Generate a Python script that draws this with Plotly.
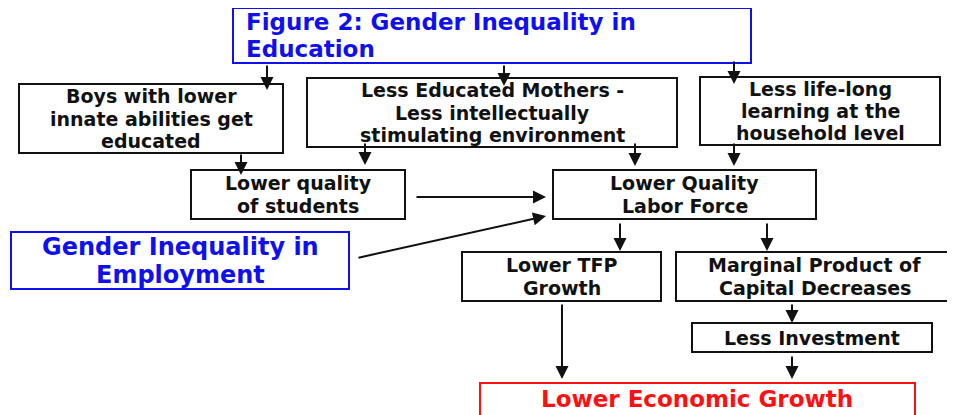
import plotly.graph_objects as go

# ---- content ----
title_lines = ["Figure 2: Gender Inequality in", "Education"]
employment_lines = ["Gender Inequality in", "Employment"]
outcome_lines = ["Lower Economic Growth"]
box_labels = [
    ["Boys with lower", "innate abilities get", "educated"],
    ["Less Educated Mothers -", "Less intellectually", "stimulating environment"],
    ["Less life-long", "learning at the", "household level"],
    ["Lower quality", "of students"],
    ["Lower Quality", "Labor Force"],
    ["Lower TFP", "Growth"],
    ["Marginal Product of", "Capital Decreases"],
    ["Less Investment"],
]

# ---- geometry (page pixels) ----
box_rects = [
    (19, 84, 283, 153),
    (307, 78, 677, 147),
    (700, 77, 940, 145),
    (191, 170, 405, 219),
    (553, 170, 816, 219),
    (462, 252, 661, 301),
    (676, 252, 953, 301),
    (692, 323, 932, 352),
]
title_rect = (233, 8, 751, 63)
employment_rect = (11, 232, 349, 289)
outcome_rect = (480, 383, 915, 425)

arrows = [  # (tail x, tail y, head x, head y)
    (267, 64, 267, 90),
    (504, 64, 504, 86),
    (734, 60, 734, 84),
    (241, 153, 241, 175),
    (365, 142, 365, 165),
    (635, 142, 635, 166),
    (734, 142, 734, 166),
    (415, 197, 546, 197),
    (357, 258, 546, 216),
    (620, 222, 620, 251),
    (767, 222, 767, 251),
    (792, 303, 792, 323),
    (562, 303, 562, 379),
    (792, 355, 792, 379),
]

BLACK = "#111111"
BLUE = "#1010ee"
RED = "#ff1010"
FONT = "DejaVu Sans"
OFF = 8  # default page margin of the html body

fig = go.Figure()
shapes = []
annotations = []


def add_box(rect, color):
    x0, y0, x1, y1 = rect
    shapes.append(dict(type="rect", xref="x", yref="y", x0=x0, y0=y0, x1=x1, y1=y1,
                       line=dict(color=color, width=2), fillcolor="white", layer="below"))


def add_lines(lines, yc, x, size, gap, color, anchor="center"):
    n = len(lines)
    for i, t in enumerate(lines):
        y = yc + (i - (n - 1) / 2) * gap
        annotations.append(dict(x=x, y=y, xref="x", yref="y", text="<b>" + t + "</b>",
                                showarrow=False, xanchor=anchor, yanchor="middle",
                                borderpad=0,
                                font=dict(family=FONT, size=size, color=color)))


for rect, lines in zip(box_rects, box_labels):
    add_box(rect, BLACK)
    yc = (rect[1] + rect[3]) / 2
    add_lines(lines, yc, (rect[0] + rect[2]) / 2, 19, 22.4, BLACK)

add_box(title_rect, BLUE)
add_lines(title_lines, 35.5, 245, 23, 27, BLUE, anchor="left")
add_box(employment_rect, BLUE)
add_lines(employment_lines, 260.5, (employment_rect[0] + employment_rect[2]) / 2, 24, 28, BLUE)
add_box(outcome_rect, RED)
add_lines(outcome_lines, 399, 697, 23, 0, RED)

for tx, ty, hx, hy in arrows:
    annotations.append(dict(x=hx, y=hy, ax=tx, ay=ty, xref="x", yref="y", axref="x", ayref="y",
                            text="", showarrow=True, arrowhead=2, arrowsize=1.3, arrowwidth=2,
                            arrowcolor=BLACK, standoff=0, startstandoff=0))

fig.update_layout(
    width=955 - OFF, height=415 - OFF, margin=dict(l=0, r=0, t=0, b=0),
    paper_bgcolor="white", plot_bgcolor="white",
    xaxis=dict(range=[OFF, 955], visible=False, fixedrange=True),
    yaxis=dict(range=[415, OFF], visible=False, fixedrange=True),
    shapes=shapes, annotations=annotations, showlegend=False,
)

fig.write_html("out.html")
